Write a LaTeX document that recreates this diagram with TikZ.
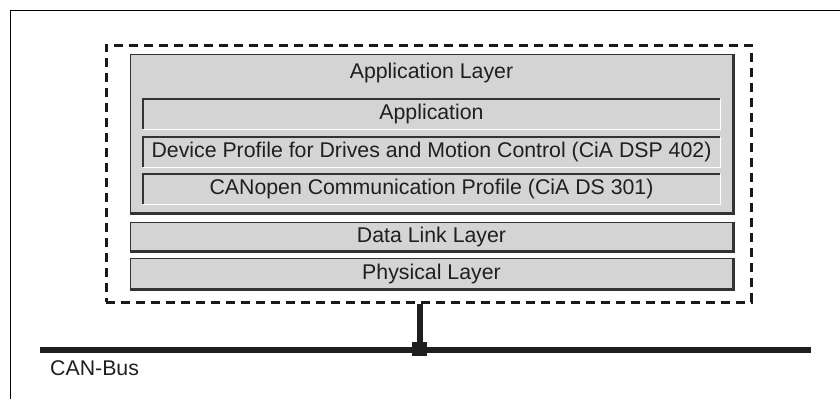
\documentclass[tikz,border=0pt]{standalone}
\usepackage{fontspec}
\setmainfont{Liberation Sans}
\usepackage{tikz}
\usetikzlibrary{arrows}

\definecolor{boxgray}{HTML}{D4D4D4}
\definecolor{edgedark}{HTML}{333333}

\begin{document}
\begin{tikzpicture}[x=1pt,y=-1pt,
    every node/.style={font=\fontsize{21.3}{25}\selectfont,text=black!88,inner sep=0pt},
    raised/.style={fill=boxgray,draw=edgedark,line width=0.8pt,minimum width=603pt},
    sunken/.style={fill=boxgray,draw=edgedark,line width=0.8pt,minimum width=577pt,minimum height=30pt},
    darkedge/.style={edgedark,line width=2.2pt},
    lightedge/.style={white,line width=1.5pt},
    dashbox/.style={draw=black!90,line width=3pt,dash pattern=on 9pt off 6pt,
                    minimum width=645pt,minimum height=257pt},
    busline/.style={black!88,line width=6pt}]
       \useasboundingbox (0,0) rectangle (840,399);
       \draw[black,line width=1pt] (10,399) -- (10,10) -- (840,10);
       % device and its layers
       \node[dashbox] (dev) at (428.5,173.5) {};
       \node[raised,minimum height=159pt] (app) at (431.5,133.5) {};
       \node (apptitle) at (431.5,73) {Application Layer};
       \node[sunken] (appl) at (431.5,114) {Application};
       \node[sunken] (prof) at (431.5,152) {Device Profile for Drives and Motion Control (CiA DSP 402)};
       \node[sunken] (comm) at (431.5,189) {CANopen Communication Profile (CiA DS 301)};
       \node[raised,minimum height=29pt] (dll) at (431.5,236.5) {Data Link Layer};
       \node[raised,minimum height=31pt] (phy) at (431.5,273.5) {Physical Layer};
       \foreach \n in {app,dll,phy}
        \draw[darkedge] (\n.south west) -- (\n.south east) -- (\n.north east);
       \foreach \n in {appl,prof,comm} {
        \draw[lightedge] (\n.south west) -- (\n.south east) -- (\n.north east);
        \draw[darkedge] (\n.south west) -- (\n.north west) -- (\n.north east);
       }
       % bus
       \coordinate (busl) at (40,350);
       \coordinate (busr) at (811,350);
       \draw[busline] (busl) -- (busr);
       \node[fill=black!88,minimum width=15pt,minimum height=14pt] (tap) at (419.5,349) {};
       \draw[busline] (dev.south -| tap) -- (tap);
       \node[anchor=west] (canbus) at (50,368) {CAN-Bus};
      \end{tikzpicture}
\end{document}
